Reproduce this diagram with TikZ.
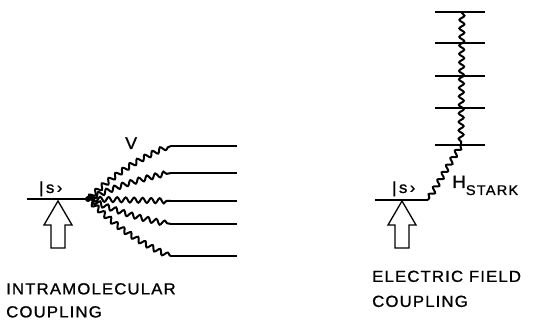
\documentclass[tikz,border=0pt]{standalone}
\usepackage{fontspec}
\setmainfont{Liberation Sans}[FakeStretch=1.05, FakeBold=1]
\usepackage{tikz}
\usetikzlibrary{positioning, decorations.pathmorphing, calc}

\tikzset{
  level/.style={line width=1.4pt},
  coupling/.style={line width=2pt, decorate,
    decoration={snake, amplitude=2.5pt, segment length=8.5pt, pre length=1pt, post length=1pt}},
  pump/.style={line width=1.3pt, line join=miter},
  lbl/.style={inner sep=0pt, font=\fontsize{16}{16}\selectfont\addfontfeature{LetterSpace=15}},
  caption/.style={anchor=north west, inner sep=0pt, align=left},
}
% hollow pump arrow, tip at #1
\newcommand{\pumparrow}[1]{%
  \draw[pump] (#1) -- ++(14,24) -- ++(-7,0) -- ++(0,23) -- ++(-14,0)
    -- ++(0,-23) -- ++(-7,0) -- cycle;}

\begin{document}
\begin{tikzpicture}[x=1pt, y=-1pt]
  \useasboundingbox (0,0) rectangle (533,323);

  % intramolecular coupling
  \coordinate (sL) at (27,199);
  \node[circle, fill, inner sep=0pt, minimum size=6pt] (dot) at (88,199) {};
  \draw[level] (sL) -- (dot.center);
  \foreach \y/\b [count=\i] in {146/10, 173/6, 201/0, 224/-6, 256/-10} {
    \coordinate (a\i) at (171,\y);
    \coordinate (b\i) at (237,\y);
    \draw[level] (a\i) -- (b\i);
    \draw[coupling] (dot.center) to[bend left=\b] (a\i);
  }
  \node[lbl, anchor=base west] (ketL) at (39,193) {|s›};
  \node[lbl, anchor=base west, font=\fontsize{17}{17}\selectfont] (V) at (125,149) {V};
  \pumparrow{58,201}
  \node[caption, font=\fontsize{16}{23}\selectfont\addfontfeature{LetterSpace=7}] (capL) at (6,283)
    {INTRAMOLECULAR\\COUPLING};

  % electric field coupling
  \foreach \y [count=\i] in {12, 43, 76, 108, 145} {
    \coordinate (c\i) at (435,\y);
    \coordinate (d\i) at (485,\y);
    \draw[level] (c\i) -- (d\i);
  }
  \coordinate (w1) at (462,12);
  \coordinate (w5) at (461,145);
  \coordinate (sR) at (375,200);
  \coordinate (e0) at (428,200);
  \draw[level] (sR) -- (e0);
  \draw[coupling] (w1) -- (w5);
  \draw[coupling] (w5) -- (e0);
  \node[lbl, anchor=base west] (ketR) at (392,193) {|s›};
  \node[lbl, anchor=base west, font=\fontsize{18}{18}\selectfont] (H) at (452,188)
    {H\raisebox{-7pt}{\fontsize{14}{14}\selectfont\addfontfeature{LetterSpace=8}STARK}};
  \pumparrow{402,201}
  \node[caption, font=\fontsize{16}{25}\selectfont\addfontfeature{LetterSpace=7}] (capR) at (372,270.5)
    {ELECTRIC FIELD\\COUPLING};
\end{tikzpicture}
\end{document}
